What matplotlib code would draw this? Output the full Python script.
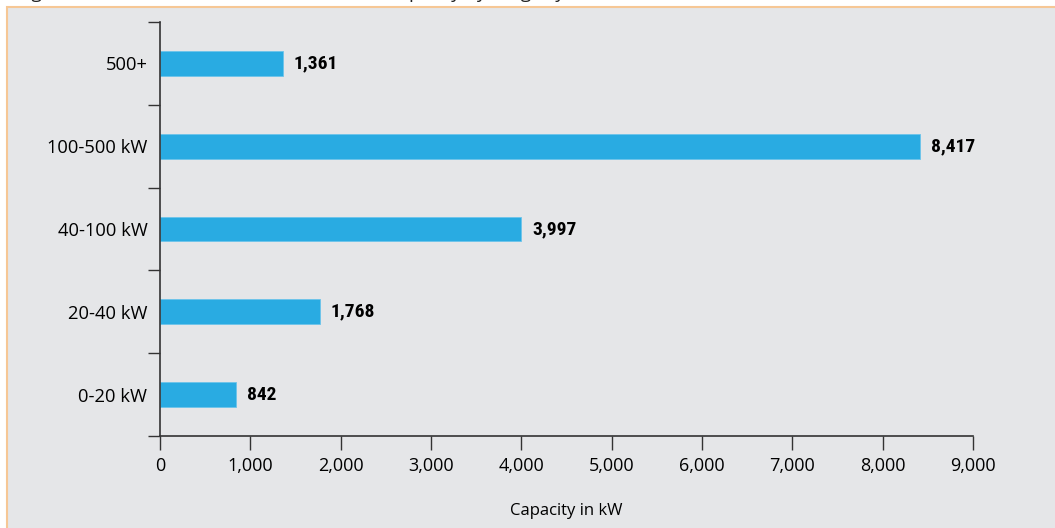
import matplotlib.pyplot as plt
from matplotlib.patches import Rectangle
from matplotlib.ticker import FuncFormatter, FixedLocator

# capacity per installation size class
categories = ["0-20 kW", "20-40 kW", "40-100 kW", "100-500 kW", "500+"]
capacity_kw = [842, 1768, 3997, 8417, 1361]
x_ticks = [0, 1000, 2000, 3000, 4000, 5000, 6000, 7000, 8000, 9000]

plt.rcParams['font.family'] = ['Open Sans', 'DejaVu Sans']
narrow = ["Roboto Condensed", "Liberation Sans Narrow", "Roboto", "DejaVu Sans"]

fig = plt.figure(figsize=(10.55, 5.28), dpi=100)

# grey panel with the orange frame
panel = Rectangle((7 / 1055, -0.1), 1.1, 1.1 - 7 / 528, transform=fig.transFigure,
                  facecolor="#e5e6e8", edgecolor="#f6c795", linewidth=1.5, zorder=-5)
fig.patches.append(panel)

# caption sits above the panel, mostly outside the page
fig.text(0.016, 1 + 2.5 / 528, "Figure 4: Number of installations and total capacity by range system",
         fontsize=13.5, va="baseline", ha="left", color="#222222")

ax = fig.add_axes([160 / 1055, 1 - 436 / 528, (973 - 160) / 1055, (436 - 22) / 528])
ax.patch.set_alpha(0)
ax.set_zorder(2)

y = range(len(categories))
ax.barh(y, capacity_kw, height=0.3, color="#29abe2", edgecolor="#6cc4ea", linewidth=0.6)

for i, v in enumerate(capacity_kw):
    ax.text(v + 120, i, f"{v:,}", va="center", ha="left", fontsize=14,
            fontweight="bold", family=narrow)

ax.set_xlim(0, 9000)
ax.set_ylim(-0.5, 4.5)
ax.set_xticks(x_ticks)
ax.xaxis.set_major_formatter(FuncFormatter(lambda v, p: f"{int(v):,}"))

# category labels sit between the boundary ticks
ax.yaxis.set_major_locator(FixedLocator([-0.5, 0.5, 1.5, 2.5, 3.5, 4.5]))
ax.yaxis.set_major_formatter(FuncFormatter(lambda v, p: ""))
ax.yaxis.set_minor_locator(FixedLocator(list(y)))
ax.set_yticklabels(categories, minor=True)
ax.tick_params(axis="y", which="major", length=9, width=1, color="#333333")
ax.tick_params(axis="y", which="minor", length=0, pad=9, labelsize=13.2)
ax.tick_params(axis="x", length=10, width=1, color="#333333", labelsize=13, pad=5)

for s in ["top", "right"]:
    ax.spines[s].set_visible(False)
for s in ["left", "bottom"]:
    ax.spines[s].set_color("#333333")
    ax.spines[s].set_linewidth(1.2)

ax.set_xlabel("Capacity in kW", fontsize=12, labelpad=20)

plt.savefig("out.png", dpi=100)
